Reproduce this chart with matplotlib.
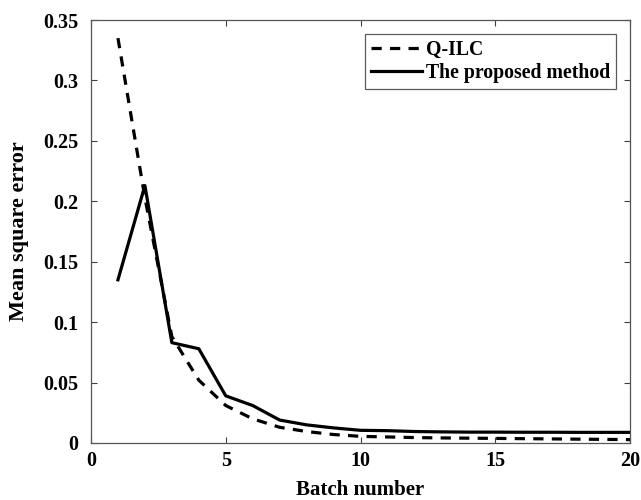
import numpy as np
import matplotlib.pyplot as plt

# batch-wise mean square error for both controllers
batch = list(range(1, 21))
mse_qilc = [0.335, 0.203, 0.088, 0.052, 0.031, 0.020, 0.013, 0.0095, 0.0070,
            0.0055, 0.0050, 0.0045, 0.0042, 0.0040, 0.0038, 0.0036, 0.0034,
            0.0032, 0.0030, 0.0028]
mse_proposed = [0.135, 0.213, 0.083, 0.078, 0.039, 0.031, 0.019, 0.015, 0.0125,
                0.0105, 0.0102, 0.0095, 0.0092, 0.0090, 0.0090, 0.0089, 0.0089,
                0.0088, 0.0088, 0.0088]

plt.rcParams['font.family'] = ['Liberation Serif', 'DejaVu Serif']
plt.rcParams['font.weight'] = 'bold'

fig = plt.figure(figsize=(6.41, 5.0), dpi=100)
ax = fig.add_axes([91/641, 1 - 443/500, (630-91)/641, (443-20)/500])

ax.plot(batch, mse_qilc, color='black', lw=2.3, linestyle=(0, (3.2, 2.6)), label='Q-ILC')
ax.plot(batch, mse_proposed, color='black', lw=2.3, label='The proposed method')

ax.set_xlim(0, 20)
ax.set_ylim(0, 0.35)
ax.set_xticks([0, 5, 10, 15, 20])
ax.set_yticks(np.arange(0, 0.351, 0.05))
ax.set_yticklabels(['0', '0.05', '0.1', '0.15', '0.2', '0.25', '0.3', '0.35'])
ax.tick_params(direction='in', top=True, right=True, length=4, width=0.8,
               colors='#404040', labelcolor='black', labelsize=14.5)
ax.tick_params(axis='y', pad=9)
ax.tick_params(axis='x', pad=6)
for s in ax.spines.values():
    s.set_color('#555555')
    s.set_linewidth(0.9)

ax.set_xlabel('Batch number', fontsize=15, fontweight='bold')
ax.set_ylabel('Mean square error', fontsize=16, fontweight='bold')
ax.xaxis.set_label_coords(0.5, -0.088)
ax.yaxis.set_label_coords(-0.115, 0.5)

leg = ax.legend(loc='upper right', fontsize=14.2, frameon=True, fancybox=False,
                handlelength=2.6, handletextpad=0.2, borderpad=0.3,
                labelspacing=0.15, borderaxespad=0.7)
leg.get_frame().set_edgecolor('#333333')
leg.get_frame().set_linewidth(0.9)
for t in leg.get_texts():
    t.set_fontweight('bold')

fig.savefig('out.png', dpi=100)
